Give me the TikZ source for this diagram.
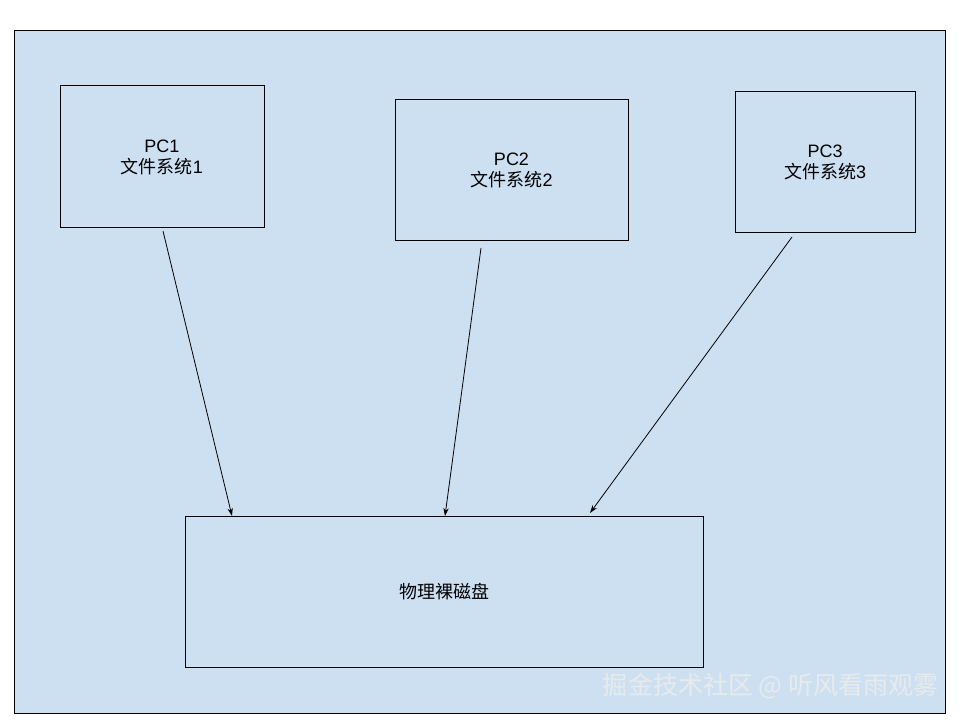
\documentclass[tikz,border=0pt]{standalone}
\usepackage{fontspec}
\setmainfont{Liberation Sans}
\newfontfamily\cjk{Noto Sans CJK SC}
\usepackage{xcolor}
\definecolor{panel}{RGB}{205, 224, 241}
\definecolor{mark}{RGB}{232, 234, 236}
\usepackage{tikz}
\usetikzlibrary{arrows.meta}

\tikzset{
  box/.style={draw=black, line width=0.75pt, align=center, inner sep=0pt,
    font=\fontsize{13.5}{15.75}\selectfont},
  link/.style={draw=black, line width=0.6pt, -{Stealth[length=6pt, width=4pt]}}
}

\begin{document}
\begin{tikzpicture}[x=0.75pt, y=-0.75pt]
          \useasboundingbox (0,0) rectangle (960,720);
          \draw[fill=panel, line width=0.75pt] (14,31) rectangle (945,713);
          \node[box, minimum width=153pt, minimum height=106.5pt] (pc1) at (162,157) {PC1\\{\cjk 文件系统}1};
          \node[box, minimum width=174.75pt, minimum height=105.75pt] (pc2) at (511.5,170.5) {PC2\\{\cjk 文件系统}2};
          \node[box, minimum width=135pt, minimum height=105.75pt] (pc3) at (825,162.5) {PC3\\{\cjk 文件系统}3};
          \node[box, minimum width=388.5pt, minimum height=113.25pt] (disk) at (444,591.5) {{\cjk 物理裸磁盘}};
          \coordinate (from1) at (163,231);
          \coordinate (from2) at (481,248);
          \coordinate (from3) at (792,237);
          \coordinate (to1) at (232,516);
          \coordinate (to2) at (445,516);
          \coordinate (to3) at (590,513);
          \draw[link] (from1) -- (to1);
          \draw[link] (from2) -- (to2);
          \draw[link] (from3) -- (to3);
          \node[text=mark, anchor=east, inner sep=0pt, font=\fontsize{18.8}{21}\selectfont] (watermark) at (939,686) {{\cjk 掘金技术社区 @ 听风看雨观雾}};
        \end{tikzpicture}
\end{document}
